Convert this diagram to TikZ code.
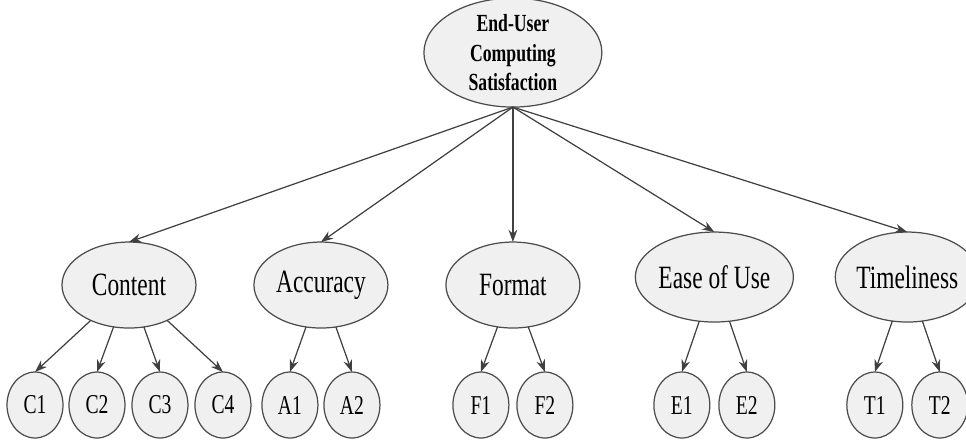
\documentclass[tikz,border=0pt]{standalone}
\usepackage{fontspec}
\setmainfont[FakeStretch=0.72]{Liberation Serif}
\usetikzlibrary{arrows.meta, positioning, shapes.geometric, calc}
\tikzset{
  topnode/.style = {
    ellipse, draw=black!70, fill=gray!12, align=center, minimum width=3.56cm, minimum height=2.0cm,
    inner sep=0pt, outer sep=0pt, line width=0.7pt, font=\fontsize{14}{17}\selectfont\bfseries
  },
  dimnode/.style = {
    ellipse, draw=black!70, fill=gray!12, align=center, minimum width=2.68cm, minimum height=1.72cm,
    inner sep=0pt, outer sep=0pt, line width=0.7pt, font=\fontsize{18.5}{22}\selectfont
  },
  itemnode/.style = {
    ellipse, draw=black!70, fill=gray!12, align=center, minimum width=1.12cm, minimum height=1.32cm,
    inner sep=0pt, outer sep=0pt, line width=0.7pt, font=\fontsize{15.5}{18}\selectfont
  },
  arrow/.style = {-{Stealth[length=7pt, width=5pt]}, line width=0.7pt, draw=black!75},
}
\begin{document}
\begin{tikzpicture}[x=0.02cm, y=0.02cm]
    \useasboundingbox (0,0) rectangle (966,-441);

    % Row 3: items (small ellipses in one row)
    \node[itemnode] (c1) at (35,-405) {C1};
    \node[itemnode, right=0.12cm of c1] (c2) {C2};
    \node[itemnode, right=0.14cm of c2] (c3) {C3};
    \node[itemnode, right=0.14cm of c3] (c4) {C4};
    \node[itemnode, right=0.22cm of c4] (a1) {A1};
    \node[itemnode, right=0.12cm of a1] (a2) {A2};
    \node[itemnode, right=1.46cm of a2] (f1) {F1};
    \node[itemnode, right=0.16cm of f1] (f2) {F2};
    \node[itemnode, right=1.62cm of f2] (e1) {E1};
    \node[itemnode, right=0.18cm of e1] (e2) {E2};
    \node[itemnode, right=1.44cm of e2] (t1) {T1};
    \node[itemnode, right=0.18cm of t1] (t2) {T2};

    % Row 2: dimensions, centred over their items
    \node[dimnode, above=0.88cm of $(c1.north)!0.5!(c4.north)$] (content) {Content};
    \node[dimnode, above=0.88cm of $(a1.north)!0.5!(a2.north)$] (accuracy) {Accuracy};
    \node[dimnode, above=0.88cm of $(f1.north)!0.5!(f2.north)$] (format) {Format};
    \node[dimnode, above=1.0cm of $(e1.north)!0.5!(e2.north)$, minimum width=2.7cm, minimum height=1.8cm] (ease) {Ease of Use};
    \node[dimnode, above=1.0cm of $(t1.north)!0.5!(t2.north)$, minimum width=2.7cm, minimum height=1.8cm] (timeliness) {Timeliness};

    % Row 1: overall satisfaction
    \node[topnode, above=2.7cm of format] (euc) {End-User\\Computing\\Satisfaction};

    % Arrows from the top to each dimension
    \draw[arrow] (euc.south) -- (content.north);
    \draw[arrow] (euc.south) -- (accuracy.north);
    \draw[arrow] (euc.south) -- (format.north);
    \draw[arrow] (euc.south) -- (ease.north);
    \draw[arrow] (euc.south) -- (timeliness.north);

    % Arrows from each dimension to its items
    \draw[arrow] (content) -- (c1.north);
    \draw[arrow] (content) -- (c2.north);
    \draw[arrow] (content) -- (c3.north);
    \draw[arrow] (content) -- (c4.north);
    \draw[arrow] (accuracy) -- (a1.north);
    \draw[arrow] (accuracy) -- (a2.north);
    \draw[arrow] (format) -- (f1.north);
    \draw[arrow] (format) -- (f2.north);
    \draw[arrow] (ease) -- (e1.north);
    \draw[arrow] (ease) -- (e2.north);
    \draw[arrow] (timeliness) -- (t1.north);
    \draw[arrow] (timeliness) -- (t2.north);
\end{tikzpicture}
\end{document}
